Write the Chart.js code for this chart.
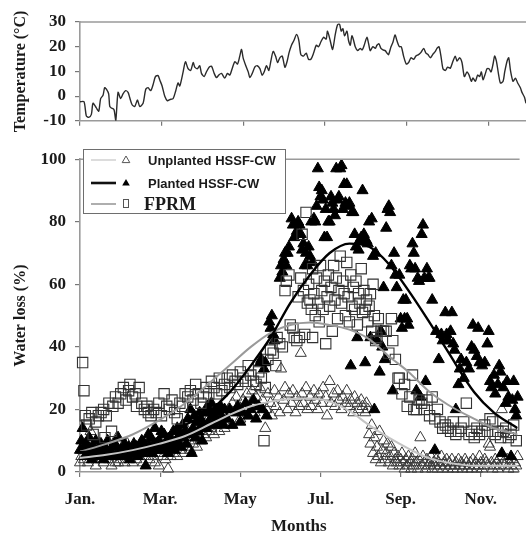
<!DOCTYPE html>
<html>
<head>
<meta charset="utf-8">
<script src="https://cdn.jsdelivr.net/npm/chart.js@4.4.1/dist/chart.umd.min.js"></script>
<style>
  html, body { margin: 0; padding: 0; background: #fff; overflow: hidden; }
  #wrap { position: relative; width: 526px; height: 535px; overflow: hidden; }
  #tempBox { position: absolute; left: 0; top: 0; width: 526px; height: 140px; }
  #lossBox { position: absolute; left: 0; top: 140px; width: 526px; height: 400px; }
</style>
</head>
<body>
<div id="wrap">
  <div id="tempBox"><canvas id="temp"></canvas></div>
  <div id="lossBox"><canvas id="loss"></canvas></div>
</div>
<script>
// ---- axis ticks (day of year) ----
const monthTicks = [0, 61, 122, 183, 244, 305];
const monthLabels = ['Jan.', 'Mar.', 'May', 'Jul.', 'Sep.', 'Nov.'];
const tempTicks = [-10, 0, 10, 20, 30];
const lossTicks = [0, 20, 40, 60, 80, 100];

// ---- daily air temperature (°C) ----
const tempDay = [0,3,4.7,6.5,8.5,9.7,12.2,14,15.4,17.2,18.4,19.7,21.4,22.2,23.4,25.4,26.7,28.4,30.4,32.1,
  34.1,35.9,37.1,38.9,40.9,42.9,44.6,47.1,49.1,50.8,52.8,54.6,56.3,58.3,59.5,61.3,63.3,65.3,67,69.5,
  71.5,73.2,74.5,77,78.7,80.7,82.7,84.5,85.7,87.7,89.4,90.7,92.7,94.4,96.4,98.2,100.2,101.9,103.6,105.6,
  108.1,110.1,111.9,113.6,115.6,117.6,119.3,120.6,121.8,123.8,125.6,126.8,128.6,130.5,132.3,134.3,136,137.5,139.3,141,
  142.5,144.2,146,147.5,149.2,151,153,154.7,156,157.9,159.7,161.7,163.4,164.9,
  166.9,168.9,170.6,172.4,174.4,176.4,178.1,179.8,181.8,183.8,184.8,186.8,188.6,190.6,192.3,193.8,195,196.3,197.5,199.3,
  200.5,201.8,203,204.3,205.5,207.3,209.2,210.7,212.2,214.2,215.5,216.7,218.7,220.5,221.7,223.2,224.7,226.2,227.9,229.2,
  230.4,232.2,233.7,235.2,236.6,238.4,239.9,241.6,243.6,245.4,247.1,249.1,250.8,252.8,254.6,256.6,258.3,259.8,261.6,263.3,
  265.3,266.5,268,269.5,271,272.8,274.5,276.5,278.5,280.2,281.5,283.5,285.2,287,289,290.5,292.2,293.4,295.2,296.9,
  298.4,299.7,300.9,302.7,303.9,305.4,306.9,308.4,309.6,310.9,312.6,313.9,315.9,317.1,318.9,320.1,321.4,323.3,325.1,326.8,
  328.8,330,331.8,333];
const tempC = [-2.3,-2.3,-8.0,-8.6,-7.4,-2.9,-4.8,-6.1,-1.0,0.3,3.4,2.8,0.9,-4.2,-4.8,-5.5,-10.0,1.5,-1.0,0.9,
  2.2,1.5,-0.6,-3.5,-4.2,-1.6,-4.2,-2.9,2.8,3.4,2.2,4.7,7.9,8.3,6.6,4.1,-0.1,-1.9,-1.4,-1.0,
  2.2,5.3,4.1,9.8,13.9,11.1,10.4,13.6,11.7,11.1,12.3,9.2,7.9,9.8,11.7,12.1,9.2,7.5,8.5,9.2,
  7.3,9.2,8.5,11.1,13.9,13.0,16.2,18.9,15.5,12.3,9.8,7.5,9.2,11.7,12.3,11.1,8.5,9.8,12.3,10.4,
  14.2,18.1,16.2,13.6,15.5,16.2,11.7,14.2,17.4,20.6,22.5,25.0,22.5,16.8,
  16.2,17.4,14.9,14.9,17.4,20.6,20.0,21.9,23.8,23.1,26.3,22.5,18.9,25.0,28.9,29.1,26.3,27.3,24.4,26.3,
  22.5,20.6,24.4,22.5,20.0,18.4,19.3,18.7,20.6,23.8,21.2,18.4,20.0,19.3,20.6,21.2,19.3,18.7,18.4,17.4,
  16.8,20.0,21.9,24.8,22.5,20.0,20.0,16.2,13.0,13.6,15.5,14.9,16.2,16.8,17.7,19.3,17.4,16.8,15.5,16.8,
  18.1,19.3,20.0,16.2,11.1,10.4,11.7,11.3,14.2,16.2,14.2,15.5,13.6,7.9,9.8,8.5,6.0,7.3,6.0,8.5,
  7.9,9.8,6.6,9.2,11.1,11.1,9.8,13.0,16.2,14.2,8.5,5.3,6.0,9.8,14.2,15.5,10.4,6.0,7.3,5.3,
  3.4,1.5,-0.4,-2.9];

// ---- daily water loss (%), [day, value] ----
const unplanted = [[0,3],[1,5],[2,7],[3,4],[4,9],[5,6],[6,3],[7,5],[8,13],[9,8],[10,4],[11,6],[12,2],[13,7],[14,5],[15,9],[16,4],[17,6],[18,3],[19,7],
  [20,5],[21,8],[22,4],[23,6],[24,2],[25,5],[26,7],[27,3],[28,11],[29,3],[30,6],[31,4],[32,8],[33,5],[34,3],[35,6],[36,9],[37,4],[38,7],[39,5],
  [40,3],[41,6],[42,8],[43,4],[44,7],[45,5],[46,9],[47,6],[48,3],[49,7],[50,5],[51,8],[52,6],[53,4],[54,9],[55,7],[56,5],[57,3],[58,8],[59,6],[60,2],
  [61,6],[62,9],[63,5],[64,8],[65,4],[66,10],[67,1],[68,7],[69,5],[70,9],[71,6],[72,11],[73,8],[74,5],[75,10],[76,7],[77,12],[78,9],[79,6],[80,11],
  [81,8],[82,13],[83,10],[84,7],[85,12],[86,9],[87,14],[88,11],[89,8],[90,13],[91,16],[92,10],[93,14],[94,12],[95,17],[96,11],[97,15],[98,13],[99,18],[100,14],
  [101,16],[102,12],[103,19],[104,15],[105,17],[106,13],[107,20],[108,16],[109,18],[110,14],
  [111,17],[113,20],[115,15],[116,22],[118,19],[119,24],[121,21],[122,17],[124,23],[125,20],[127,25],[128,18],[130,22],[131,26],[133,19],[134,24],[136,21],[137,27],[139,23],[141,14],
  [142,20],[143,25],[145,22],[146,18],[148,26],[149,21],[151,24],[152,19],[153,33],[155,23],[156,27],[158,20],[159,25],[161,22],[162,26],[164,19],[165,24],[167,21],[168,38],[169,25],
  [170,22],[172,27],[173,20],[175,24],[176,21],[178,26],[179,23],[181,20],[182,25],[184,22],[185,27],[187,24],[188,18],[190,29],[191,22],[193,25],[194,21],[196,26],[197,23],[199,20],
  [200,24],[202,22],[203,26],[205,21],[206,23],[208,19],[209,24],[211,22],[212,20],[214,23],[215,21],[217,19],[218,22],
  [219,20],[220,12],[221,9],[222,15],[223,6],[224,11],[225,4],[226,8],[227,5],[228,13],[229,3],[230,7],[231,10],[232,4],[233,6],[234,9],[235,3],[236,5],[237,8],[238,2],[239,6],[240,4],
  [241,3],[242,5],[243,2],[244,4],[245,6],[246,3],[247,1],[248,4],[249,2],[250,5],[251,3],[252,1],[253,4],[254,2],[255,6],[256,3],[257,1],[258,4],[259,11],[260,2],
  [261,5],[262,3],[263,1],[264,4],[265,2],[266,3],[267,5],[268,1],[269,3],[270,2],[271,4],[272,1],[273,3],[274,2],[275,5],[276,1],[277,3],[278,2],[279,4],[280,1],
  [281,3],[282,2],[283,4],[284,1],[285,2],[286,3],[287,1],[288,4],[289,2],[290,3],[291,1],[292,2],[293,4],[294,3],[295,1],[296,2],[297,3],[298,1],[299,4],[300,2],
  [301,3],[302,1],[303,2],[304,5],[305,3],[306,1],[307,2],[308,4],[309,3],[310,2],[311,9],[312,8],[313,3],[314,1],[315,2],[316,4],[317,3],[318,1],[319,2],[320,5],
  [321,20],[322,3],[323,2],[324,12],[325,4],[326,1],[327,3],[328,2],[329,4],[330,1],[331,3],[332,2],[333,5]];

const planted = [[0,7],[1,10],[2,14],[3,8],[4,5],[5,9],[6,6],[7,11],[8,7],[9,4],[10,8],[11,6],[12,10],[13,5],[14,7],[16,9],[17,6],[18,4],[19,8],[20,7],
  [21,10],[22,5],[23,7],[24,6],[26,9],[27,5],[28,8],[29,11],[30,6],[31,7],[33,5],[34,9],[35,7],[36,6],[37,8],[38,4],[40,7],[41,9],[42,6],[43,8],
  [44,5],[46,7],[47,10],[48,6],[49,9],[50,2],[51,7],[52,12],[53,8],[54,11],[55,6],[56,9],[57,14],[58,8],[59,7],[60,10],
  [61,9],[62,13],[63,7],[64,12],[65,8],[66,10],[67,6],[68,9],[69,11],[70,8],[71,13],[72,7],[73,10],[74,14],[75,9],[76,12],[77,8],[78,15],[79,11],[80,13],
  [81,9],[82,17],[83,12],[84,20],[85,6],[86,14],[87,18],[88,11],[89,16],[90,13],[91,19],[92,17],[93,10],[94,15],[95,19],[96,14],[97,21],[98,16],[99,19],[100,22],
  [101,18],[102,15],[103,17],[104,20],[105,16],[106,19],[107,21],[108,17],[109,15],[110,20],
  [112,17],[114,20],[116,15],[118,19],[120,21],[122,16],[124,19],[126,22],[128,18],[130,20],[132,23],[134,17],[136,21],[137,35],[138,36],[139,20],[140,33],[141,35],[142,18],[144,48],
  [145,46],[146,50],[147,44],[148,42],
  [152,62],[153,66],[154,64],[155,68],[156,70],[157,66],[158,70],[159,72],[161,81],[162,79],
  [163,75],[165,77],[166,80],[167,79],[168,76],[169,71],[170,73],[171,66],[172,70],[173,66],[174,72],[175,69],[176,80],[177,67],[178,81],[179,80],[180,85],[181,97],[182,91],[183,88],
  [184,90],[185,87],[186,75],[187,84],[188,75],[189,80],[190,80],[191,88],[192,86],[193,84],[194,82],[195,97],[196,87],[197,88],[198,97],[199,98],[200,84],[201,92],[202,86],[203,92],
  [204,85],[205,86],[206,34],[207,83],[208,83],[209,76],[210,72],[211,43],[212,71],[213,74],[214,75],[215,90],[216,76],[217,35],[218,74],[219,73],[220,80],[221,43],[222,81],[223,69],
  [224,20],[225,70],
  [226,42],[228,32],[229,45],[230,40],[231,59],[232,36],[233,78],[234,84],[235,85],[236,83],[237,66],[238,26],[239,70],[240,63],[241,59],[243,63],[244,49],[245,46],[246,55],[247,49],
  [248,55],[249,49],[250,47],[251,66],[252,65],[253,73],[254,70],[255,65],[256,26],[257,62],[258,61],[259,24],[260,76],[261,79],[262,62],[263,29],[264,65],[265,62],[266,62],[268,55],
  [270,7],[271,45],[273,36],[275,44],[276,42],[278,51],[279,44],[280,42],[282,45],[283,51],[284,41],[285,39],[286,20],[288,28],[289,33],[290,36],[292,30],[294,35],[296,33],[298,40],
  [299,47],[300,39],[302,37],[303,46],[304,35],[306,34],[308,35],[310,41],[311,45],[312,29],[313,27],[315,31],[316,25],[318,28],[319,34],[320,32],[321,6],[322,27],[324,22],[325,29],
  [326,24],[328,5],[329,23],[330,29],[331,20],[332,18],[333,24]];

const fprm = [[2,35],[3,26],[4,18],[5,15],[7,17],[9,19],[10,12],[12,16],[14,18],[16,19],[18,20],[19,11],[20,18],[22,22],[24,13],[25,21],[27,24],[29,22],[31,25],[33,27],
  [35,23],[37,26],[38,28],[40,24],[42,25],[43,21],[45,27],[47,22],[49,20],[51,21],[52,19],[54,18],[56,20],[58,19],[60,22],[62,18],[64,25],[66,21],[68,20],[70,23],
  [72,19],[74,17],[76,22],[78,21],[80,25],[82,24],[84,26],[86,23],[88,28],[90,25],[92,22],[94,24],[96,27],[98,25],[100,29],[102,27],[104,25],[106,30],[108,26],[110,28],
  [112,30],[114,27],[116,31],[118,29],[120,28],[122,32],[124,30],[126,29],[128,34],[130,31],[132,29],[134,28],[136,32],[138,30],[140,10],[141,27],[143,36],[145,39],[147,38],[149,34],
  [150,43],[152,41],[154,40],[156,58],[157,61],[159,63],[160,47],[162,46],[163,43],[165,42],[166,56],[167,43],[168,62],[169,76],[170,58],[171,44],[172,83],[173,54],
  [174,60],[175,55],[176,52],[177,65],[177,43],[178,57],[179,50],[180,62],[181,54],[182,48],[183,66],[184,58],[185,52],[186,61],[187,41],[188,56],[189,63],[190,53],[191,59],[192,45],
  [193,66],[194,55],[195,62],[196,49],[197,58],[198,69],[199,54],[200,61],[201,57],[202,50],[203,67],[204,56],[205,48],[206,63],[207,53],[208,59],[209,52],[210,61],[211,47],[212,57],
  [213,54],[214,65],[215,51],[216,58],[217,52],[218,55],[219,48],[220,53],[221,57],[222,45],[223,60],[224,50],[225,42],
  [226,43],[227,49],[229,45],[231,45],[233,45],[235,38],[237,49],[238,42],[240,36],[242,30],[243,30],[245,25],[247,28],[249,21],[251,24],[253,31],[254,20],[256,20],[258,23],[260,22],
  [262,20],[264,23],[266,18],[268,24],[270,17],[272,20],[274,16],[276,14],[278,15],[280,14],[282,13],[284,16],[286,12],[288,13],[290,14],[292,16],[294,22],[296,12],[298,13],[300,11],
  [302,14],[304,12],[306,13],[308,15],[310,13],[312,17],[314,16],[316,12],[318,13],[320,11],[322,13],[324,14],[326,11],[328,12],[330,15],[332,10]];

// ---- fitted seasonal curves ----
const curveDay       = [0, 20, 40, 60, 80, 100, 115, 130, 145, 160, 175, 190, 205, 220, 235, 250, 265, 280, 300, 315, 333];
const unplantedCurve = [4.5, 5.5, 7, 9, 11.5, 15.5, 18.5, 21, 22.5, 23.3, 23.5, 22.5, 19.5, 15, 11, 7.5, 4.5, 3, 2, 2, 2];
const plantedCurve   = [6.3, 7, 8.5, 11, 15, 20, 26, 34, 43, 54, 63, 70, 73, 72, 66.5, 58, 48.5, 38.5, 25.5, 19, 14];
const fprmCurve      = [6.5, 9, 12, 16.5, 22, 29, 34.5, 40, 44.5, 47, 47.8, 47, 45.5, 42.5, 37, 32, 26, 21.5, 17, 14, 12];

const keyLabels = ['Unplanted HSSF-CW', 'Planted HSSF-CW', 'FPRM'];

const SERIF = "'Liberation Serif','Times New Roman',serif";
const SANS = "'Liberation Sans',Arial,sans-serif";
const AXIS_GREY = '#9a9a9a';
const INK = '#1a1a1a';

const toXY = (xs, ys) => xs.map((x, i) => ({ x: x, y: ys[i] }));
const pairsToXY = arr => arr.map(p => ({ x: p[0], y: p[1] }));

function monthAxis(showLabels, height, title) {
  return {
    type: 'linear', min: 0, max: 333,
    afterBuildTicks: s => { s.ticks = monthTicks.map(v => ({ value: v })); },
    afterFit: s => { s.height = height; },
    ticks: {
      autoSkip: false, maxRotation: 0, padding: 12, color: INK,
      font: { family: SERIF, weight: 'bold', size: 17 },
      callback: v => showLabels ? monthLabels[monthTicks.indexOf(v)] : ''
    },
    grid: { drawOnChartArea: false, drawTicks: true, tickLength: 5, color: '#777', lineWidth: 1.2 },
    border: { display: true, color: AXIS_GREY, width: 1.6 },
    title: title ? { display: true, text: title, color: INK, padding: { top: 0, bottom: 3 },
                     font: { family: SERIF, weight: 'bold', size: 17 } } : { display: false }
  };
}

function valueAxis(min, max, ticks, title) {
  return {
    min: min, max: max,
    afterBuildTicks: s => { s.ticks = ticks.map(v => ({ value: v })); },
    afterFit: s => { s.width = 80; },
    ticks: { padding: 9, color: INK, font: { family: SERIF, weight: 'bold', size: 17 } },
    grid: { drawOnChartArea: false, drawTicks: true, tickLength: 5, color: '#777', lineWidth: 1.2 },
    border: { display: true, color: AXIS_GREY, width: 1.6 },
    title: { display: true, text: title, color: INK, padding: { top: 11, bottom: 0 },
             font: { family: SERIF, weight: 'bold', size: 16 } }
  };
}

// upper frame line of each panel
const topFrame = {
  id: 'topFrame',
  afterDraw(chart) {
    const { ctx, chartArea: a } = chart;
    ctx.save();
    ctx.strokeStyle = AXIS_GREY;
    ctx.lineWidth = 1.6;
    ctx.beginPath();
    ctx.moveTo(a.left, a.top);
    ctx.lineTo(a.right + 2, a.top);
    ctx.stroke();
    ctx.restore();
  }
};

// boxed key in the upper-left corner of the water-loss panel
const seriesKey = {
  id: 'seriesKey',
  afterDraw(chart) {
    const ctx = chart.ctx;
    ctx.save();
    ctx.fillStyle = '#fff';
    ctx.fillRect(83, 9, 202, 64);
    ctx.strokeStyle = '#6e6e6e';
    ctx.lineWidth = 1;
    ctx.strokeRect(83.5, 9.5, 202, 64);
    const rowsY = [20, 43, 64];
    const lineStyles = [['#c9c9c9', 1.3], ['#111', 2.6], ['#9a9a9a', 1.6]];
    rowsY.forEach((y, i) => {
      ctx.strokeStyle = lineStyles[i][0];
      ctx.lineWidth = lineStyles[i][1];
      ctx.beginPath(); ctx.moveTo(91, y); ctx.lineTo(116, y); ctx.stroke();
      const mx = 126;
      ctx.lineWidth = 1;
      if (i < 2) {
        ctx.beginPath();
        ctx.moveTo(mx, y - 4); ctx.lineTo(mx + 3.8, y + 2.6); ctx.lineTo(mx - 3.8, y + 2.6); ctx.closePath();
        if (i === 1) { ctx.fillStyle = '#000'; ctx.fill(); }
        else { ctx.strokeStyle = '#555'; ctx.stroke(); }
      } else {
        ctx.strokeStyle = '#555';
        ctx.strokeRect(mx - 2.5, y - 4.5, 5, 8);
      }
      ctx.fillStyle = INK;
      ctx.textBaseline = 'middle';
      ctx.textAlign = 'left';
      if (i < 2) {
        ctx.font = "bold 13px " + SANS;
        ctx.fillText(keyLabels[i], 148, y + 1);
      } else {
        ctx.font = "bold 18px " + SERIF;
        ctx.fillText(keyLabels[i], 144, y + 1);
      }
    });
    ctx.restore();
  }
};

Chart.defaults.animation = false;

new Chart(document.getElementById('temp'), {
  type: 'line',
  data: {
    datasets: [{
      data: toXY(tempDay, tempC),
      borderColor: '#2b2b2b', borderWidth: 1.4, pointRadius: 0, tension: 0.25, fill: false
    }]
  },
  options: {
    responsive: true, maintainAspectRatio: false,
    layout: { padding: { top: 22, right: 0, bottom: 0, left: 0 } },
    plugins: { legend: { display: false }, tooltip: { enabled: false } },
    scales: {
      x: monthAxis(false, 13, null),
      y: valueAxis(-10, 30, tempTicks, 'Temperature (°C)')
    }
  },
  plugins: [topFrame]
});

new Chart(document.getElementById('loss'), {
  type: 'scatter',
  data: {
    datasets: [
      { label: keyLabels[0], data: pairsToXY(unplanted), order: 4, clip: false,
        pointStyle: 'triangle', pointRadius: 6.4, borderWidth: 1,
        borderColor: '#3a3a3a', backgroundColor: 'rgba(255,255,255,0)' },
      { label: keyLabels[1], data: pairsToXY(planted), order: 3, clip: false,
        pointStyle: 'triangle', pointRadius: 6.4, borderWidth: 1,
        borderColor: '#000', backgroundColor: '#000' },
      { label: keyLabels[2], data: pairsToXY(fprm), order: 2, clip: false,
        pointStyle: 'rect', pointRadius: 7.3, borderWidth: 1.1,
        borderColor: '#333', backgroundColor: 'rgba(255,255,255,0)' },
      { type: 'line', data: toXY(curveDay, unplantedCurve), order: 1,
        borderColor: '#c4c4c4', borderWidth: 2, pointRadius: 0, cubicInterpolationMode: 'monotone', fill: false },
      { type: 'line', data: toXY(curveDay, fprmCurve), order: 1,
        borderColor: '#9a9a9a', borderWidth: 2, pointRadius: 0, cubicInterpolationMode: 'monotone', fill: false },
      { type: 'line', data: toXY(curveDay, plantedCurve), order: 0,
        borderColor: '#000', borderWidth: 2.4, pointRadius: 0, cubicInterpolationMode: 'monotone', fill: false }
    ]
  },
  options: {
    responsive: true, maintainAspectRatio: false,
    layout: { padding: { top: 7, right: 0, bottom: 0, left: 0 } },
    plugins: { legend: { display: false }, tooltip: { enabled: false } },
    scales: {
      x: monthAxis(true, 68, 'Months'),
      y: valueAxis(0, 100, lossTicks, 'Water loss (%)')
    }
  },
  plugins: [topFrame, seriesKey]
});
</script>
</body>
</html>
